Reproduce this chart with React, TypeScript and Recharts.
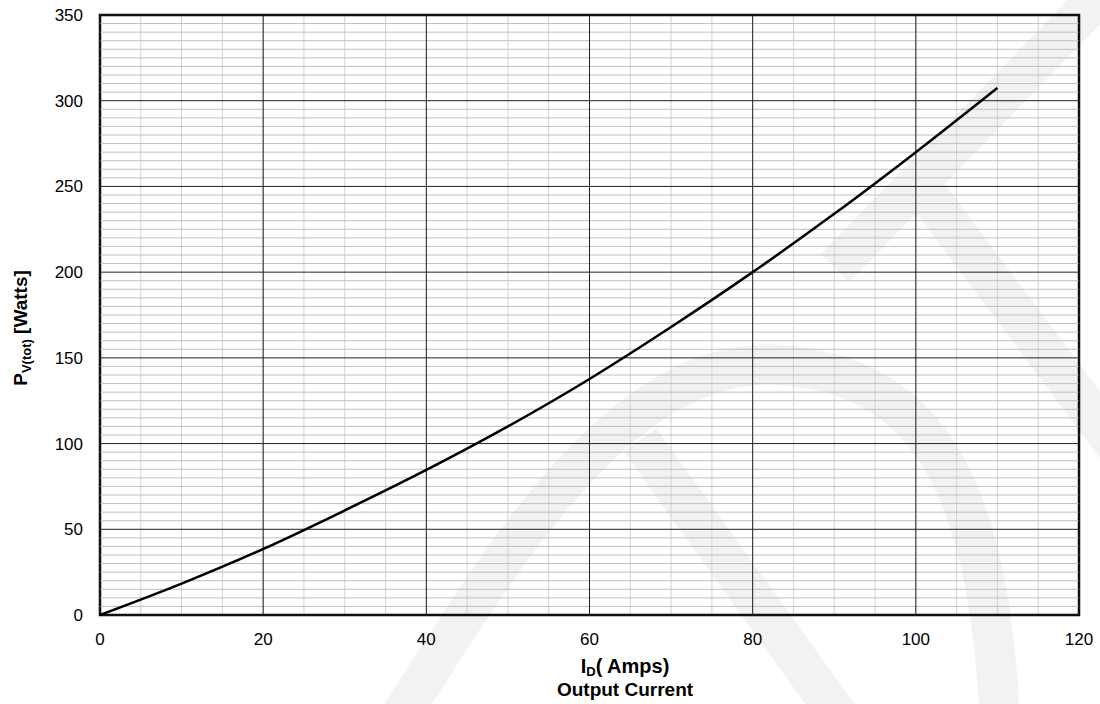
import React from 'react';
import { LineChart, Line, XAxis, YAxis, CartesianGrid, ReferenceArea, ReferenceLine } from 'recharts';

const currentAmps = [0, 10, 20, 30, 40, 50, 60, 70, 80, 90, 100, 110];
const powerWatts = [0, 18.3, 38.5, 61, 84.6, 110, 137.7, 168, 200, 234, 270, 307.5];

const xTicks = [0, 20, 40, 60, 80, 100, 120];
const yTicks = [0, 50, 100, 150, 200, 250, 300, 350];
const xMinor = [0, 5, 10, 15, 20, 25, 30, 35, 40, 45, 50, 55, 60, 65, 70, 75, 80, 85, 90, 95, 100, 105, 110, 115, 120];
const yMinor = [5, 10, 15, 20, 25, 30, 35, 40, 45, 55, 60, 65, 70, 75, 80, 85, 90, 95,
  105, 110, 115, 120, 125, 130, 135, 140, 145, 155, 160, 165, 170, 175, 180, 185, 190, 195,
  205, 210, 215, 220, 225, 230, 235, 240, 245, 255, 260, 265, 270, 275, 280, 285, 290, 295,
  305, 310, 315, 320, 325, 330, 335, 340, 345];

const data = currentAmps.map((x, i) => ({ x, p: powerWatts[i] }));

const FONT = '"Liberation Sans", Arial, sans-serif';

const YTitle = (props: any) => {
  const vb = props.viewBox || { x: 0, y: 15, width: 100, height: 600 };
  const cx = vb.x + 27;
  const cy = vb.y + vb.height / 2 + 13;
  return (
    <text
      x={cx}
      y={cy}
      transform={`rotate(-90, ${cx}, ${cy})`}
      textAnchor="middle"
      fontFamily={FONT}
      fontWeight="bold"
      fontSize={19}
      fill="#000"
    >
      P
      <tspan dy={4} fontSize={13}>V(tot)</tspan>
      <tspan dy={-4}> [Watts]</tspan>
    </text>
  );
};

const XTitle = (props: any) => {
  const vb = props.viewBox || { x: 100, y: 615, width: 979, height: 89 };
  const cx = vb.x + 525;
  return (
    <g fontFamily={FONT} fontWeight="bold" fill="#000">
      <text x={cx} y={vb.y + 58} textAnchor="middle" fontSize={20}>
        I<tspan dy={3} fontSize={13}>D</tspan>
        <tspan dy={-3}>( Amps)</tspan>
      </text>
      <text x={cx} y={vb.y + 81} textAnchor="middle" fontSize={19}>
        Output Current
      </text>
    </g>
  );
};

const Watermark = () => (
  <svg
    width={1100}
    height={704}
    style={{ position: 'absolute', left: 0, top: 0 }}
  >
    <g stroke="#f2f2f2" fill="none" strokeWidth={40}>
      <path d="M 835 268 L 1120 -25" />
      <path d="M 915 178 L 1115 445" />
      <path d="M 395 725 C 500 560, 620 355, 780 365 C 930 375, 990 490, 1000 725" />
      <path d="M 640 440 L 845 725" />
    </g>
  </svg>
);

export default function App() {
  return (
    <div style={{ position: 'absolute', left: 0, top: 0, width: 1100, height: 704, background: '#fff' }}>
      <Watermark />
      <div style={{ position: 'absolute', left: 0, top: 0 }}>
        <LineChart
          width={1100}
          height={704}
          data={data}
          margin={{ top: 15, right: 21, bottom: 0, left: 0 }}
        >
          <CartesianGrid
            horizontal={false}
            verticalValues={xMinor}
            stroke="#d2d2d2"
            strokeWidth={1}
          />
          {yMinor.map((v) => (
            <ReferenceLine key={`ym${v}`} y={v} stroke="#bfbfbf" strokeWidth={1} />
          ))}
          {xTicks.map((v) => (
            <ReferenceLine key={`xM${v}`} x={v} stroke="#222" strokeWidth={1} />
          ))}
          {yTicks.map((v) => (
            <ReferenceLine key={`yM${v}`} y={v} stroke="#222" strokeWidth={1} />
          ))}
          <XAxis
            dataKey="x"
            type="number"
            domain={[0, 120]}
            ticks={xTicks}
            height={89}
            tickSize={0}
            tickLine={false}
            tickMargin={18}
            axisLine={false}
            tick={{ fontSize: 17, fill: '#000', fontFamily: FONT }}
            label={<XTitle />}
          />
          <YAxis
            type="number"
            domain={[0, 350]}
            ticks={yTicks}
            width={100}
            tickSize={0}
            tickLine={false}
            tickMargin={17}
            axisLine={false}
            tick={{ fontSize: 17, fill: '#000', fontFamily: FONT }}
            label={<YTitle />}
          />
          <ReferenceArea
            x1={0}
            x2={120}
            y1={0}
            y2={350}
            fill="none"
            fillOpacity={0}
            stroke="#000"
            strokeWidth={2.5}
          />
          <Line
            type="monotone"
            dataKey="p"
            stroke="#000"
            strokeWidth={2.5}
            dot={false}
            isAnimationActive={false}
          />
        </LineChart>
      </div>
    </div>
  );
}
